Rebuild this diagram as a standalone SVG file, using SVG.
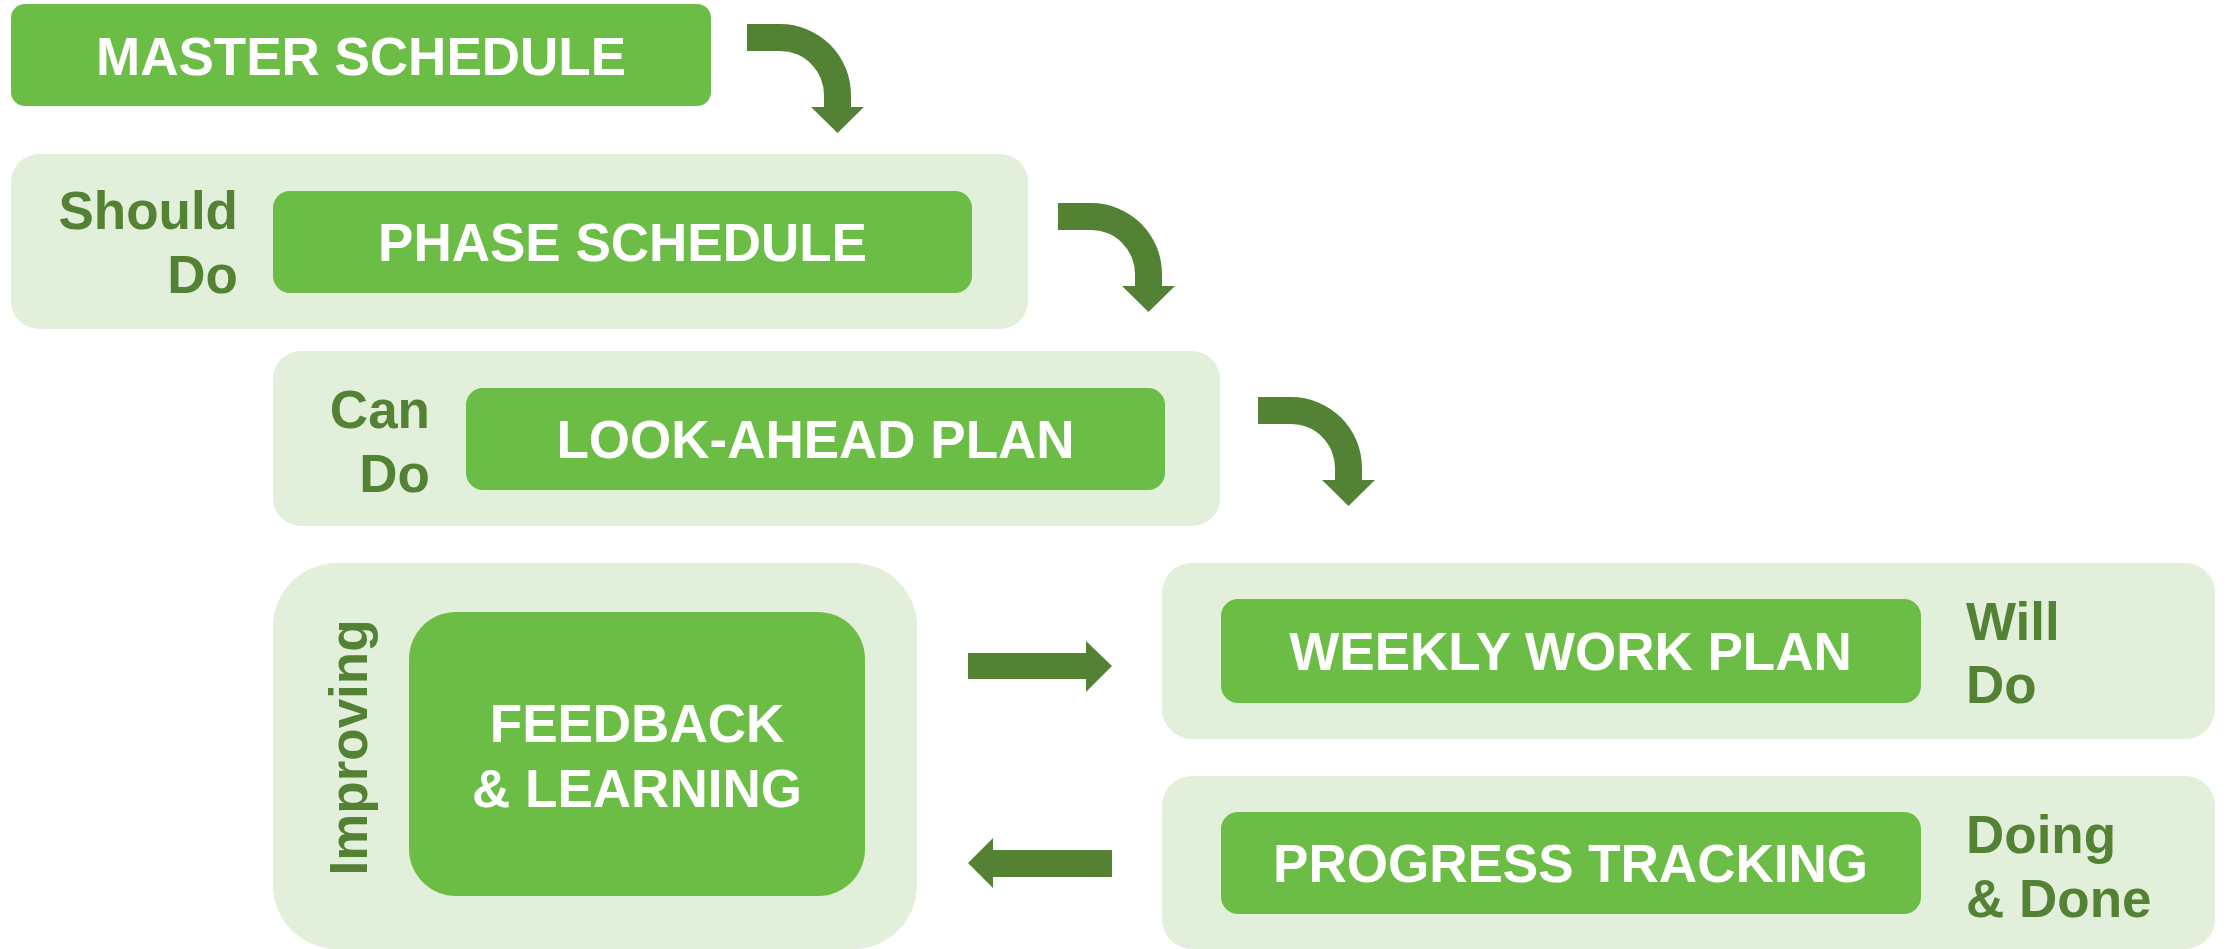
<svg xmlns="http://www.w3.org/2000/svg" width="2226" height="949" viewBox="0 0 2226 949">
  <defs>
    <style>
      .outer { fill: #E2EFDA; }
      .inner { fill: #6CBD45; }
      .arrow { fill: #548235; }
      .title { font-family: "Liberation Sans", Arial, sans-serif; font-weight: bold; font-size: 53px; fill: #FFFFFF; text-anchor: middle; }
      .side { font-family: "Liberation Sans", Arial, sans-serif; font-weight: bold; font-size: 53px; fill: #548235; }
      .right { text-anchor: end; }
    </style>
    <path id="curve" d="M0,0 L33,0 A71,71 0 0 1 104,71 L104,83 L117,83 L90.5,109 L64,83 L77,83 L77,71 A44,44 0 0 0 33,27 L0,27 Z"/>
  </defs>
  <rect width="2226" height="949" fill="#FFFFFF"/>

  <g id="master-schedule">
    <rect class="inner" x="11" y="4" width="700" height="102" rx="14"/>
    <text class="title" x="361" y="75">MASTER SCHEDULE</text>
  </g>

  <g id="phase-schedule">
    <rect class="outer" x="11" y="154" width="1017" height="175" rx="28"/>
    <rect class="inner" x="273" y="191" width="699" height="102" rx="17"/>
    <text class="title" x="622.5" y="261">PHASE SCHEDULE</text>
    <text class="side right" x="238" y="229">Should</text>
    <text class="side right" x="238" y="293">Do</text>
  </g>

  <g id="look-ahead-plan">
    <rect class="outer" x="273" y="351" width="947" height="175" rx="28"/>
    <rect class="inner" x="466" y="388" width="699" height="102" rx="17"/>
    <text class="title" x="815.5" y="458">LOOK-AHEAD PLAN</text>
    <text class="side right" x="430" y="428">Can</text>
    <text class="side right" x="430" y="492">Do</text>
  </g>

  <g id="feedback-learning">
    <rect class="outer" x="273" y="563" width="644" height="386" rx="64"/>
    <rect class="inner" x="409" y="612" width="456" height="284" rx="47"/>
    <text class="title" x="637" y="742">FEEDBACK</text>
    <text class="title" x="637" y="807">&amp; LEARNING</text>
    <text class="side" text-anchor="middle" transform="translate(367,747.5) rotate(-90)">Improving</text>
  </g>

  <g id="weekly-work-plan">
    <rect class="outer" x="1162" y="563" width="1053" height="176" rx="30"/>
    <rect class="inner" x="1221" y="599" width="700" height="104" rx="17"/>
    <text class="title" x="1570.5" y="670">WEEKLY WORK PLAN</text>
    <text class="side" x="1966" y="640">Will</text>
    <text class="side" x="1966" y="703">Do</text>
  </g>

  <g id="progress-tracking">
    <rect class="outer" x="1162" y="776" width="1053" height="173" rx="30"/>
    <rect class="inner" x="1221" y="812" width="700" height="102" rx="17"/>
    <text class="title" x="1570.5" y="882">PROGRESS TRACKING</text>
    <text class="side" x="1966" y="853">Doing</text>
    <text class="side" x="1966" y="917">&amp; Done</text>
  </g>

  <g id="connectors">
    <use class="arrow" href="#curve" transform="translate(747,24)"/>
    <use class="arrow" href="#curve" transform="translate(1058,203)"/>
    <use class="arrow" href="#curve" transform="translate(1258,397)"/>
    <path class="arrow" d="M968,653 L1086,653 L1086,641 L1112,666 L1086,692 L1086,679 L968,679 Z"/>
    <path class="arrow" d="M1112,850 L993,850 L993,838 L968,863 L993,888 L993,877 L1112,877 Z"/>
  </g>
</svg>
